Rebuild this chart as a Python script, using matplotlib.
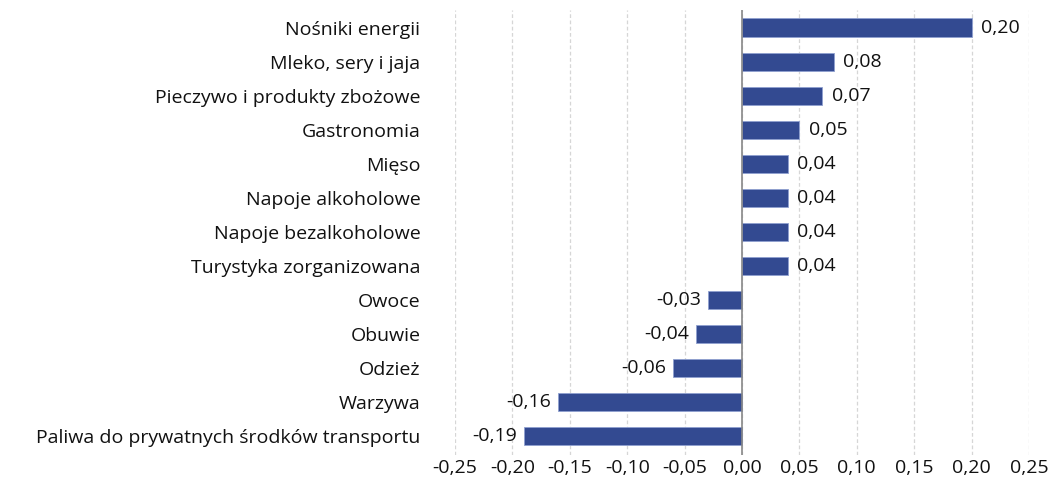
import matplotlib
matplotlib.use('Agg')
import matplotlib.pyplot as plt

categories = ['Nośniki energii', 'Mleko, sery i jaja', 'Pieczywo i produkty zbożowe',
              'Gastronomia', 'Mięso', 'Napoje alkoholowe', 'Napoje bezalkoholowe',
              'Turystyka zorganizowana', 'Owoce', 'Obuwie', 'Odzież', 'Warzywa',
              'Paliwa do prywatnych środków transportu']
values = [0.20, 0.08, 0.07, 0.05, 0.04, 0.04, 0.04, 0.04, -0.03, -0.04, -0.06, -0.16, -0.19]
xticks = [-0.25, -0.20, -0.15, -0.10, -0.05, 0.0, 0.05, 0.10, 0.15, 0.20, 0.25]

plt.rcParams['font.family'] = ['Open Sans', 'DejaVu Sans']
fs = 14

fig = plt.figure(figsize=(10.51, 4.91), dpi=100)
ax = fig.add_axes([0.433, 0.073, 0.546, 0.907])

y = list(range(len(categories)))
ax.barh(y, values, height=0.55, color='#334a91', edgecolor='#8fa0d0', linewidth=0.6, zorder=3)

for yi, v in zip(y, values):
    lab = f'{v:.2f}'.replace('.', ',')
    if v >= 0:
        ax.text(v + 0.008, yi, lab, va='center', ha='left', fontsize=fs, color='#111111')
    else:
        ax.text(v - 0.006, yi, lab, va='center', ha='right', fontsize=fs, color='#111111')

ax.set_xlim(-0.25, 0.25)
ax.set_ylim(12.56, -0.53)
ax.set_xticks(xticks)
ax.set_xticklabels([f'{t:.2f}'.replace('.', ',') for t in xticks], fontsize=fs)
ax.set_yticks(y)
ax.set_yticklabels(categories, fontsize=fs)
ax.tick_params(axis='both', length=0, colors='#111111')
ax.tick_params(axis='x', pad=3)
ax.tick_params(axis='y', pad=25)

ax.grid(axis='x', linestyle=(0, (3, 2)), color='#d6d6d6', linewidth=0.9, zorder=0)
ax.axvline(0, color='#888888', linewidth=1.2, zorder=4)
for s in ax.spines.values():
    s.set_visible(False)

fig.savefig('out.png', dpi=100)
